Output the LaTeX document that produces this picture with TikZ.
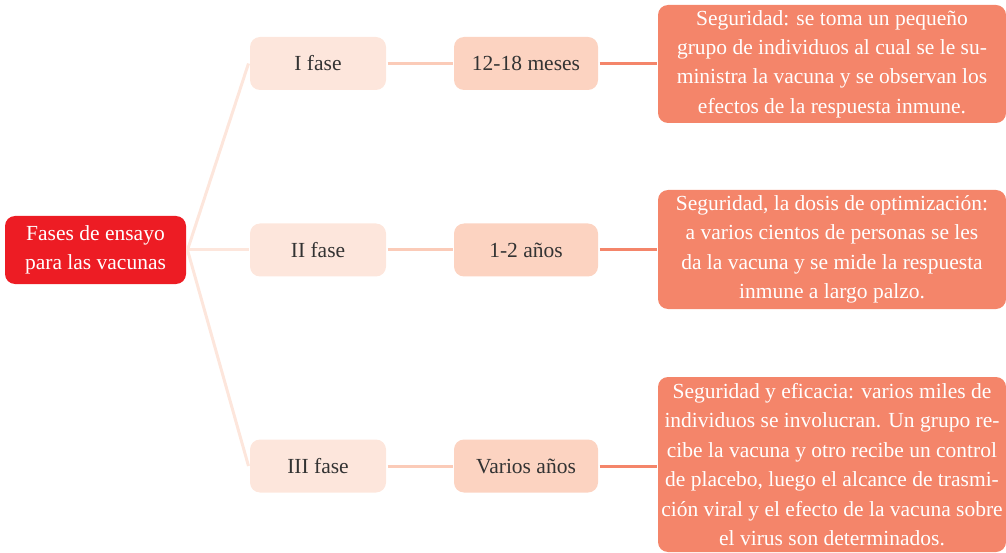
\documentclass[tikz,border=0pt]{standalone}
\usepackage{fontspec}
\setmainfont{Liberation Serif}
\usepackage{xcolor}
\definecolor{rootred}{HTML}{ED1C24}
\definecolor{faseback}{HTML}{FDE6DC}
\definecolor{tiempoback}{HTML}{FCD3C1}
\definecolor{descback}{HTML}{F4856A}
\definecolor{textgray}{HTML}{333333}

\begin{document}
\begin{tikzpicture}[x=1pt,y=-1pt]
      \tikzstyle{every node}=[rounded corners=10pt,inner sep=0pt,align=center,font=\fontsize{21.5}{29.4}\selectfont]
      \tikzstyle{rootbox}=[fill=rootred,text=white,minimum width=181,minimum height=68]
      \tikzstyle{fasebox}=[fill=faseback,text=textgray,minimum width=136,minimum height=53]
      \tikzstyle{tiempobox}=[fill=tiempoback,text=textgray,minimum width=144,minimum height=53]
      \tikzstyle{descbox}=[fill=descback,text=white,minimum width=348]
      \tikzstyle{every path}=[line width=3pt]
      \useasboundingbox (0,0) rectangle (1006,553);
      % raiz
      \node[rootbox] (root) at (95.5,250) {Fases de ensayo\\para las vacunas};
      % fases
      \node[fasebox] (f1) at (318,63.5) {I fase};
      \node[fasebox] (f2) at (318,250) {II fase};
      \node[fasebox] (f3) at (318,466) {III fase};
      % duracion
      \node[tiempobox] (t1) at (526,63.5) {12-18 meses};
      \node[tiempobox] (t2) at (526,250) {1-2 años};
      \node[tiempobox] (t3) at (526,466) {Varios años};
      % descripcion
      \node[descbox,minimum height=118] (d1) at (832,64) {Seguridad: se toma un pequeño\\grupo de individuos al cual se le su-\\ministra la vacuna y se observan los\\efectos de la respuesta inmune.};
      \node[descbox,minimum height=119] (d2) at (832,249.5) {Seguridad, la dosis de optimización:\\a varios cientos de personas se les\\da la vacuna y se mide la respuesta\\inmune a largo palzo.};
      \node[descbox,minimum height=175] (d3) at (832,464.5) {Seguridad y eficacia: varios miles de\\individuos se involucran. Un grupo re-\\cibe la vacuna y otro recibe un control\\de placebo, luego el alcance de trasmi-\\ción viral y el efecto de la vacuna sobre\\el virus son determinados.};
      \foreach \i in {1,2,3} {
        \draw[faseback] (root.east) -- (f\i.west);
        \draw[tiempoback!90!descback] (f\i.east) -- (t\i.west);
        \draw[descback] (t\i.east) -- (t\i.east -| d\i.west);
      }
\end{tikzpicture}
\end{document}
